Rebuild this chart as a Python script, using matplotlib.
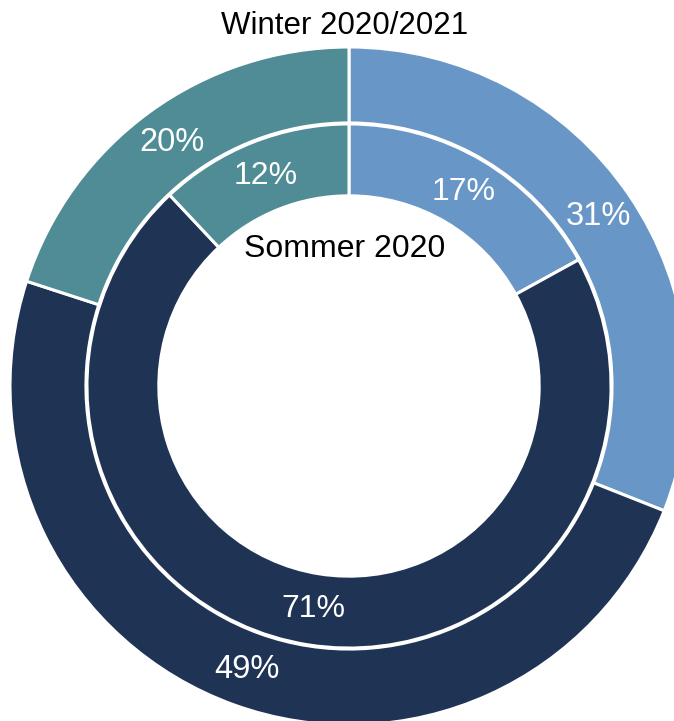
import matplotlib
matplotlib.use("Agg")
import matplotlib.pyplot as plt

plt.rcParams['font.family'] = ['Liberation Sans', 'DejaVu Sans']

# Data
categories = ['Blau', 'Dunkel', 'Petrol']
winter_vals = [31, 49, 20]   # outer ring: Winter 2020/2021
sommer_vals = [17, 71, 12]   # inner ring: Sommer 2020
colors = ['#6896c6', '#1f3354', '#4f8c96']

fig = plt.figure(figsize=(6.74, 7.21), dpi=100)
ax = fig.add_axes([0, 0, 1, 1])

# outer ring
wedges_o, texts_o, auto_o = ax.pie(
    winter_vals, radius=1.0, colors=colors, startangle=90, counterclock=False,
    autopct='%d%%', pctdistance=0.888,
    wedgeprops=dict(width=0.224, edgecolor='white', linewidth=2.2),
    textprops=dict(color='white', fontsize=23.5))

# inner ring
wedges_i, texts_i, auto_i = ax.pie(
    sommer_vals, radius=0.773, colors=colors, startangle=90, counterclock=False,
    autopct='%d%%', pctdistance=0.86,
    wedgeprops=dict(width=0.212, edgecolor='white', linewidth=2.2),
    textprops=dict(color='white', fontsize=23))

ax.text(-0.012, 1.062, 'Winter 2020/2021', ha='center', va='center', fontsize=22.5, color='black')
ax.text(-0.012, 0.405, 'Sommer 2020', ha='center', va='center', fontsize=23, color='black')

ax.set_aspect('equal')
ax.set_xlim(-1.0295, 0.9587)
ax.set_ylim(-0.9882, 1.1386)
ax.axis('off')

fig.savefig('out.png', dpi=100)
